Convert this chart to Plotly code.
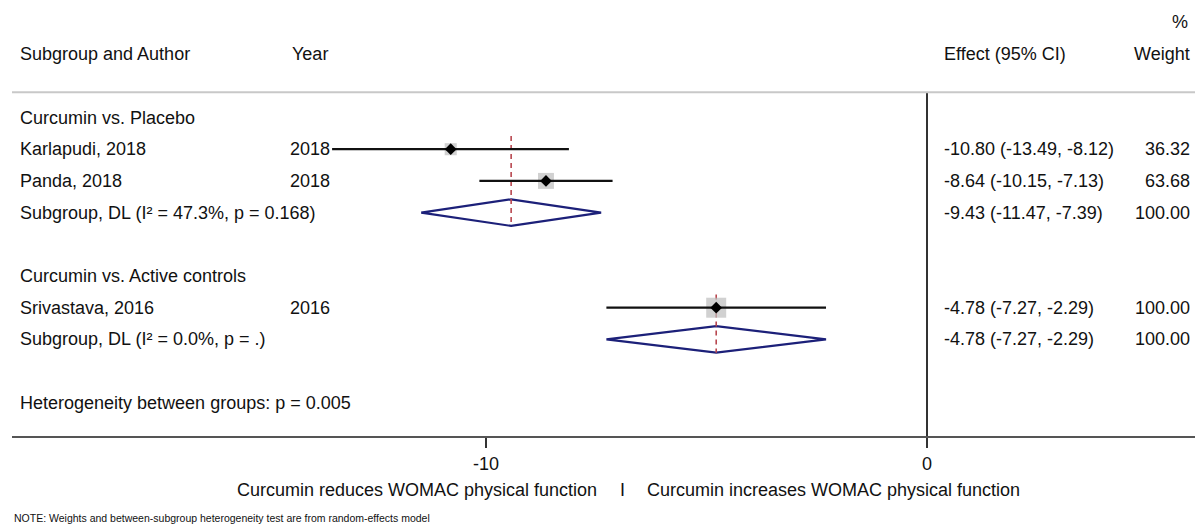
import plotly.graph_objects as go

# ---- study-level data -------------------------------------------------------
group_titles = ["Curcumin vs. Placebo", "Curcumin vs. Active controls"]
authors = ["Karlapudi, 2018", "Panda, 2018", "Srivastava, 2016"]
years = [2018, 2018, 2016]
study_group = [0, 0, 1]
effect = [-10.80, -8.64, -4.78]
ci_low = [-13.49, -10.15, -7.27]
ci_high = [-8.12, -7.13, -2.29]
weight = [36.32, 63.68, 100.00]

# ---- subgroup (DerSimonian-Laird) pooled estimates --------------------------
pooled_labels = ["Subgroup, DL (I\u00b2 = 47.3%, p = 0.168)",
                 "Subgroup, DL (I\u00b2 = 0.0%, p = .)"]
pooled_effect = [-9.43, -4.78]
pooled_low = [-11.47, -7.27]
pooled_high = [-7.39, -2.29]
pooled_weight = [100.00, 100.00]

heterogeneity_text = "Heterogeneity between groups: p = 0.005"
note_text = "NOTE: Weights and between-subgroup heterogeneity test are from random-effects model"
favours_left = "Curcumin reduces WOMAC physical function"
favours_right = "Curcumin increases WOMAC physical function"
tick_values = [-10, 0]
tick_labels = ["-10", "0"]

# ---- page geometry ----------------------------------------------------------
W, H = 1195, 527
PLOT_BOTTOM = 436          # pixel row of the x-axis line
ZERO_PX, PX_PER_UNIT = 927, 44.1
LEFT_PX = 12
ROW0_PX, ROW_STEP = 117.5, 31.7

FONT = "Liberation Sans, Arial, Helvetica, sans-serif"
TXT = "#111111"
NAVY = "#1c2079"
RED = "#b8474f"
BOX = "#bdbdbd"

x_range = [(LEFT_PX - ZERO_PX) / PX_PER_UNIT, (W - ZERO_PX) / PX_PER_UNIT]
y_range = [(PLOT_BOTTOM - ROW0_PX) / ROW_STEP, (0 - ROW0_PX) / ROW_STEP]


def px_x(px):
    return px / W


def px_y(px):
    return 1 - px / PLOT_BOTTOM


# ---- row layout --------------------------------------------------------------
rows = []           # (kind, index, row)
r = 0
for g, title in enumerate(group_titles):
    rows.append(("title", g, r)); r += 1
    for i, sg in enumerate(study_group):
        if sg == g:
            rows.append(("study", i, r)); r += 1
    rows.append(("pooled", g, r)); r += 2
het_row = r
study_row = {i: rr for k, i, rr in rows if k == "study"}
pooled_row = {g: rr for k, g, rr in rows if k == "pooled"}
title_row = {g: rr for k, g, rr in rows if k == "title"}

fig = go.Figure()

# no-effect line
fig.add_trace(go.Scatter(x=[0, 0], y=[-0.8, y_range[0]], mode="lines",
                         line=dict(color="#333333", width=2),
                         hoverinfo="skip", showlegend=False))

# pooled diamonds
for g in range(len(group_titles)):
    yy = pooled_row[g]
    fig.add_trace(go.Scatter(
        x=[pooled_low[g], pooled_effect[g], pooled_high[g], pooled_effect[g], pooled_low[g]],
        y=[yy, yy - 0.42, yy, yy + 0.42, yy],
        mode="lines", line=dict(color=NAVY, width=2.2),
        hoverinfo="skip", showlegend=False))

# subgroup pooled-estimate reference lines
for g in range(len(group_titles)):
    first = min(study_row[i] for i, sg in enumerate(study_group) if sg == g)
    fig.add_trace(go.Scatter(
        x=[pooled_effect[g], pooled_effect[g]],
        y=[first - 0.42, pooled_row[g] + 0.42],
        mode="lines", line=dict(color=RED, width=1.6, dash="5px,4px"),
        hoverinfo="skip", showlegend=False))

# weight boxes
fig.add_trace(go.Scatter(
    x=effect, y=[study_row[i] for i in range(len(authors))], mode="markers",
    marker=dict(symbol="square", color=BOX,
                size=[20 * (w / 100) ** 0.5 for w in weight], line=dict(width=0)),
    hoverinfo="skip", showlegend=False))

# confidence intervals
ci_x, ci_y = [], []
for i in range(len(authors)):
    ci_x += [ci_low[i], ci_high[i], None]
    ci_y += [study_row[i], study_row[i], None]
fig.add_trace(go.Scatter(x=ci_x, y=ci_y, mode="lines",
                         line=dict(color="#111111", width=2.3),
                         hoverinfo="skip", showlegend=False))

# point estimates
fig.add_trace(go.Scatter(
    x=effect, y=[study_row[i] for i in range(len(authors))], mode="markers",
    marker=dict(symbol="diamond", color="#000000", size=9, line=dict(width=0)),
    hoverinfo="skip", showlegend=False))

# ---- text columns ------------------------------------------------------------
ann = []


def add_text(text, xpx, y, anchor="left", size=18, yref="y"):
    ann.append(dict(text=text, x=px_x(xpx), xref="paper", y=y, yref=yref,
                    xanchor=anchor, yanchor="middle", showarrow=False,
                    borderpad=0,
                    font=dict(family=FONT, size=size, color=TXT)))


COL_LABEL, COL_YEAR_HDR, COL_YEAR, COL_EFFECT, COL_WEIGHT = 19, 291, 331, 943, 1191

add_text("%", 1189, -3, "right")
add_text("Subgroup and Author", COL_LABEL, -2)
add_text("Year", COL_YEAR_HDR, -2)
add_text("Effect (95% CI)", COL_EFFECT, -2)
add_text("Weight", COL_WEIGHT, -2, "right")

for g in range(len(group_titles)):
    add_text(group_titles[g], COL_LABEL, title_row[g])
for i in range(len(authors)):
    yy = study_row[i]
    add_text(authors[i], COL_LABEL, yy)
    add_text(str(years[i]), COL_YEAR, yy, "right")
    add_text(f"{effect[i]:.2f} ({ci_low[i]:.2f}, {ci_high[i]:.2f})", COL_EFFECT, yy)
    add_text(f"{weight[i]:.2f}", COL_WEIGHT, yy, "right")
for g in range(len(group_titles)):
    yy = pooled_row[g]
    add_text(pooled_labels[g], COL_LABEL, yy)
    add_text(f"{pooled_effect[g]:.2f} ({pooled_low[g]:.2f}, {pooled_high[g]:.2f})", COL_EFFECT, yy)
    add_text(f"{pooled_weight[g]:.2f}", COL_WEIGHT, yy, "right")

add_text(heterogeneity_text, COL_LABEL, het_row)

# favours labels and footnote below the axis
add_text(favours_left, 598, px_y(490), "right", yref="paper")
add_text("I", 622, px_y(490), "center", yref="paper")
add_text(favours_right, 646, px_y(490), "left", yref="paper")
add_text(note_text, 13, px_y(518), "left", size=10.5, yref="paper")

fig.update_layout(
    width=W, height=H,
    margin=dict(l=0, r=0, t=0, b=H - PLOT_BOTTOM),
    paper_bgcolor="white", plot_bgcolor="white",
    annotations=ann,
    shapes=[dict(type="line", xref="paper", yref="y", x0=px_x(LEFT_PX), x1=1,
                 y0=-0.8, y1=-0.8, line=dict(color="#c8c8c8", width=2))],
    xaxis=dict(domain=[LEFT_PX / W, 1], range=x_range, showgrid=False, zeroline=False,
               showline=True, linecolor="#555555", linewidth=2,
               ticks="outside", ticklen=10, tickwidth=2, tickcolor="#333333",
               tickvals=tick_values, ticktext=tick_labels,
               tickfont=dict(family=FONT, size=18, color=TXT), fixedrange=True),
    yaxis=dict(range=y_range, visible=False, fixedrange=True),
)

fig.write_html("out.html")
